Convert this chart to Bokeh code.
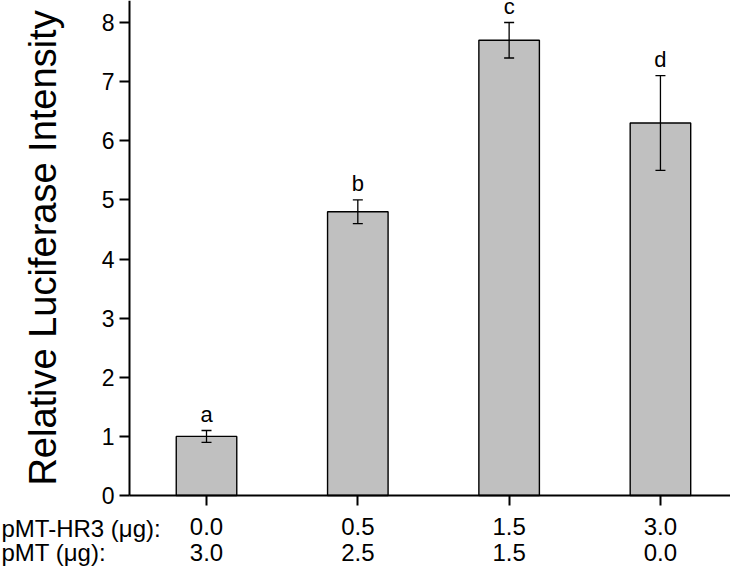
from bokeh.plotting import figure
from bokeh.models import Range1d, FixedTicker, ColumnDataSource, Whisker, TeeHead
from bokeh.core.properties import value
from bokeh.embed import file_html
from bokeh.resources import INLINE

# ---- data ----
x_pos = [0, 1, 2, 3]
hr3_ug = ["0.0", "0.5", "1.5", "3.0"]
pmt_ug = ["3.0", "2.5", "1.5", "0.0"]
means = [1.0, 4.8, 7.7, 6.3]
errors = [0.1, 0.2, 0.3, 0.8]
letters = ["a", "b", "c", "d"]
y_ticks = [0, 1, 2, 3, 4, 5, 6, 7, 8]
row_titles = ["pMT-HR3 (\u03bcg):", "pMT (\u03bcg):"]

FONT = "Liberation Sans"
X_LO, X_HI = -0.509, 3.463      # axis extent (data)
Y_LO, Y_HI = -1.2, 8.372        # view extent (data), below 0 holds label rows
ROW1_Y = -0.558
ROW2_Y = -0.964
TITLE_X = -1.355
LETTER_GAP = 0.275              # gap between error-bar top and letter centre

src = ColumnDataSource(dict(
    x=x_pos, top=means,
    upper=[m + e for m, e in zip(means, errors)],
    lower=[m - e for m, e in zip(means, errors)],
    letter=letters,
    letter_y=[m + e + LETTER_GAP for m, e in zip(means, errors)],
    pmt=pmt_ug,
    row2=[ROW2_Y] * len(x_pos),
))

p = figure(width=730, height=566, output_backend="svg", toolbar_location=None,
           x_range=Range1d(-1.3615, X_HI), y_range=Range1d(Y_LO, Y_HI),
           min_border_left=0, min_border_right=0, min_border_top=0,
           min_border_bottom=0)
p.outline_line_color = None
p.xgrid.visible = False
p.ygrid.visible = False

p.vbar(x="x", top="top", width=0.4, source=src, fill_color="#c0c0c0",
       line_color="black", line_width=1.4)

p.add_layout(Whisker(base="x", upper="upper", lower="lower", source=src,
                     level="annotation",
                     line_width=1.3, line_color="black",
                     upper_head=TeeHead(size=10, line_width=1.3),
                     lower_head=TeeHead(size=10, line_width=1.3)))

# significance letters
p.text(x="x", y="letter_y", text="letter", source=src, text_align="center",
       text_baseline="middle", text_font=value(FONT),
       text_font_size=value("22px"), text_color="black")

# x axis (first row of labels), placed at y = 0
xa = p.xaxis[0]
xa.fixed_location = 0
xa.bounds = (X_LO, X_HI)
xa.ticker = FixedTicker(ticks=x_pos)
xa.major_label_overrides = {x: s for x, s in zip(x_pos, hr3_ug)}
xa.major_tick_out = 10
xa.major_tick_in = 0
xa.minor_tick_line_color = None
xa.axis_line_width = 2
xa.major_tick_line_width = 2
xa.major_label_text_font = FONT
xa.major_label_text_font_size = "24px"
xa.major_label_text_color = "black"
xa.major_label_standoff = 12

# y axis placed at left end of x extent
ya = p.yaxis[0]
ya.fixed_location = X_LO
ya.bounds = (0, Y_HI)
ya.ticker = FixedTicker(ticks=y_ticks)
ya.major_tick_out = 10
ya.major_tick_in = 0
ya.minor_tick_line_color = None
ya.axis_line_width = 2
ya.major_tick_line_width = 2
ya.major_label_text_font = FONT
ya.major_label_text_font_size = "23px"
ya.major_label_text_color = "black"
ya.major_label_standoff = 5
ya.axis_label = "Relative Luciferase Intensity"
ya.axis_label_text_font = FONT
ya.axis_label_text_font_size = "38px"
ya.axis_label_text_font_style = "normal"
ya.axis_label_text_color = "black"
ya.axis_label_standoff = 35

# second row of values
p.text(x="x", y="row2", text="pmt", source=src, text_align="center",
       text_baseline="middle", text_font=value(FONT),
       text_font_size=value("24px"), text_color="black")

# row titles
p.text(x=[TITLE_X, TITLE_X], y=[ROW1_Y, ROW2_Y], text=row_titles,
       text_align="left", text_baseline="middle", text_font=value(FONT),
       text_font_size=value("24px"), text_color="black")

open("out.html", "w").write(file_html(p, INLINE))
